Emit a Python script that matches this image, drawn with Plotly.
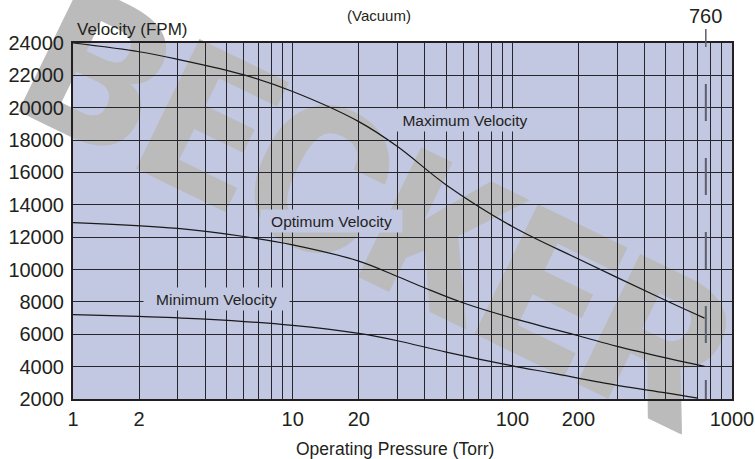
import math
import plotly.graph_objects as go

# ---------------- data ----------------
x_max = [1, 2, 3, 6, 10, 20, 30, 50, 100, 200, 500, 750]
v_max = [24000, 23460, 22990, 22030, 21000, 19140, 17600, 15230, 12660, 10650, 8090, 7000]

x_opt = [1, 3, 6, 10, 20, 30, 40, 60, 100, 200, 300, 500, 750]
v_opt = [12900, 12540, 12040, 11530, 10520, 9570, 8860, 7930, 7000, 5910, 5250, 4540, 4020]

x_min = [1, 2, 4, 10, 20, 30, 50, 100, 150, 300, 500, 700]
v_min = [7210, 7100, 6940, 6550, 6050, 5600, 4900, 4050, 3610, 2845, 2380, 2050]

x_grid = [1, 2, 3, 4, 5, 6, 7, 8, 9,
          10, 20, 30, 40, 50, 60, 70, 80, 90,
          100, 200, 300, 400, 500, 600, 700, 800, 900, 1000]
x_labeled = [1, 2, 10, 20, 100, 200, 1000]
y_ticks = [2000, 4000, 6000, 8000, 10000, 12000, 14000, 16000, 18000, 20000, 22000, 24000]

atm_value = 760
series_labels = ["Maximum Velocity", "Optimum Velocity", "Minimum Velocity"]
label_pos = [(60.8, 19216), (15.1, 12993), (4.48, 8197)]

# ---------------- style ----------------
BG = "#c2c7e2"
TXT = "#231f20"
GRID = "#26262c"
FONT = "Liberation Sans"

fig = go.Figure()
for xs, vs in [(x_max, v_max), (x_opt, v_opt), (x_min, v_min)]:
    fig.add_trace(go.Scatter(x=xs, y=vs, mode="lines",
                             line=dict(color="#1a1a1a", width=1.2, shape="spline", smoothing=1.0),
                             showlegend=False, hoverinfo="skip"))

fig.update_layout(
    width=755, height=459,
    margin=dict(l=73, r=23, t=43, b=60),
    paper_bgcolor="white",
    plot_bgcolor="rgba(0,0,0,0)",
    font=dict(family=FONT, color=TXT),
    showlegend=False,
)

fig.update_xaxes(
    type="log", range=[0, 3], automargin=False,
    tickvals=x_grid,
    ticktext=[str(v) if v in x_labeled else "" for v in x_grid],
    tickfont=dict(size=20, color=TXT, family=FONT),
    ticks="outside", ticklen=1, tickcolor="rgba(0,0,0,0)",
    showgrid=True, gridcolor=GRID, gridwidth=1,
    showline=True, linecolor=TXT, linewidth=2, mirror=True,
    zeroline=False,
)
fig.update_yaxes(
    range=[2000, 24000], automargin=False,
    tickvals=y_ticks,
    ticktext=[str(v) for v in y_ticks],
    tickfont=dict(size=20, color=TXT, family=FONT),
    ticks="outside", ticklen=3, tickcolor="rgba(0,0,0,0)",
    showgrid=True, gridcolor=GRID, gridwidth=1,
    showline=True, linecolor=TXT, linewidth=2, mirror=True,
    zeroline=False,
)

shapes = [
    # plot background (drawn below grid and watermark)
    dict(type="rect", xref="paper", yref="paper", x0=0, x1=1, y0=0, y1=1,
         fillcolor=BG, line=dict(width=0), layer="below"),
    # watermark
    dict(type="rect", xref="paper", yref="paper", x0=0.457, x1=0.487, y0=0.555, y1=0.585,
         fillcolor="rgba(0,0,0,0)", line=dict(width=0), layer="below",
         label=dict(text="BECKER", textangle=26, textposition="middle center",
                    font=dict(family="Roboto, Lato, Inter, Liberation Sans", size=203,
                              color="#bbbbbb", weight=900))),
    # 760 tick above the plot
    dict(type="line", xref="x", yref="paper", x0=atm_value, x1=atm_value,
         y0=1.0393, y1=0.9888, line=dict(color="#5c5f6c", width=1.5)),
    # dashed 760 line
    dict(type="line", xref="x", yref="paper", x0=atm_value, x1=atm_value,
         y0=0.9888, y1=0.0, line=dict(color="#5c5f6c", width=2, dash="0px,37px,37px,0px")),
]
fig.update_layout(shapes=shapes)

annotations = [
    dict(text="Velocity (FPM)", xref="paper", yref="paper", x=0.003, y=1.039,
         xanchor="left", yanchor="middle", showarrow=False, font=dict(size=17, color=TXT)),
    dict(text="(Vacuum)", xref="paper", yref="paper", x=0.4643, y=1.0772,
         xanchor="center", yanchor="middle", showarrow=False, font=dict(size=15, color=TXT)),
    dict(text=str(atm_value), xref="x", yref="paper", x=math.log10(atm_value), y=1.0772,
         xanchor="center", yanchor="middle", showarrow=False, font=dict(size=20, color=TXT)),
    dict(text="Operating Pressure (Torr)", xref="paper", yref="paper", x=0.4886, y=-0.1404,
         xanchor="center", yanchor="middle", showarrow=False, font=dict(size=17.5, color=TXT)),
]
widths = [140, 141, 145]
for (lx, ly), txt, w in zip(label_pos, series_labels, widths):
    annotations.append(dict(text=txt, xref="x", yref="y", x=math.log10(lx), y=ly,
                            xanchor="center", yanchor="middle", showarrow=False,
                            bgcolor=BG, width=w, height=22, borderpad=0,
                            font=dict(size=15.5, color=TXT)))
fig.update_layout(annotations=annotations)

fig.write_html("out.html")
